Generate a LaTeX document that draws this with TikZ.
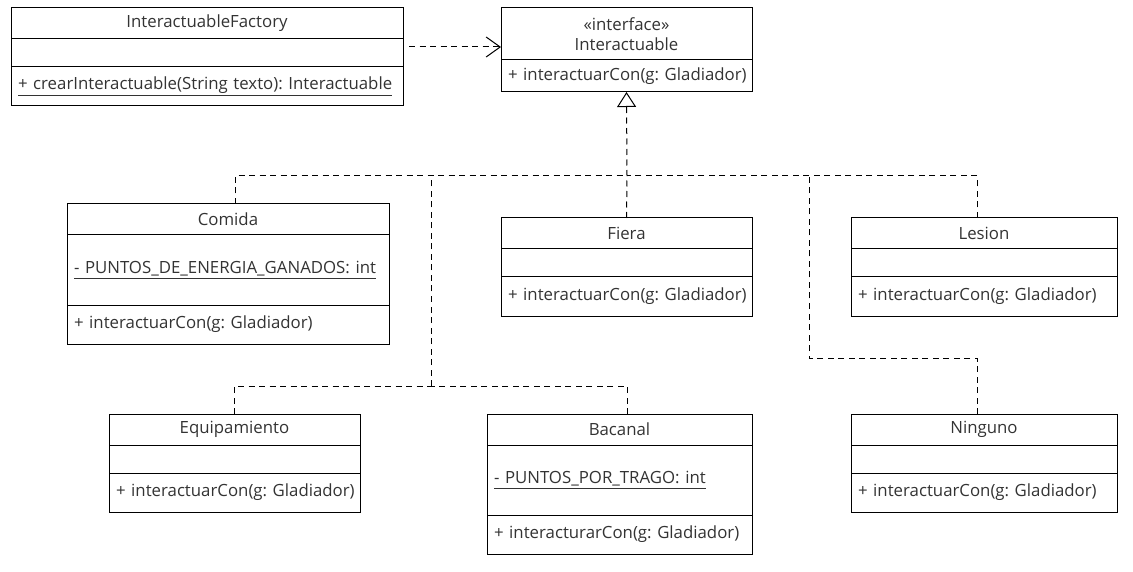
\documentclass[tikz,border=0pt]{standalone}
\usepackage{fontspec}
\setmainfont{Open Sans}
\frenchspacing
\usepackage{tikz}
\usetikzlibrary{arrows.meta,positioning}
\definecolor{umlText}{RGB}{51,51,51}
\tikzset{
  cbox/.style={draw,line width=1pt,inner xsep=7pt,inner ysep=0pt,outer sep=0pt,
               font=\fontsize{16.8}{20}\selectfont,text=umlText},
  ctitle/.style={cbox,text width=#1,align=center,minimum height=31pt,anchor=north west},
  cattr/.style={cbox,text width=#1,align=left,minimum height=28pt},
  cops/.style={cbox,text width=#1,align=left,minimum height=39pt},
  dep/.style={line width=1pt,dash pattern=on 6pt off 4.5pt,-{Straight Barb[length=14pt,width=20pt]}},
  real/.style={line width=1pt,dash pattern=on 6pt off 4.5pt,-{Triangle[open,length=15pt,width=19pt]}},
  branch/.style={line width=1pt,dash pattern=on 6pt off 4.5pt},
}

\begin{document}
\begin{tikzpicture}[x=1pt,y=-1pt]
  \useasboundingbox (0,0) rectangle (1133,572);

  % factory and interface
  \node[ctitle=378pt] (ftitle) at (11,8) {InteractuableFactory};
  \node[cattr=378pt,below right=0pt of ftitle.south west] (fattr) {};
  \node[cops=378pt,below right=0pt of fattr.south west] (fops) {\underline{+ crearInteractuable(String texto): Interactuable}};

  \node[ctitle=237pt,minimum height=52pt] (ititle) at (501,8) {«interface»\\Interactuable};
  \node[cops=237pt,minimum height=32pt,below right=0pt of ititle.south west] (iops) {\mbox{+ interactuarCon(g: Gladiador)}};

  % first row
  \node[ctitle=308pt] (ctitle) at (67,204) {Comida};
  \node[cattr=308pt,minimum height=70pt,below right=0pt of ctitle.south west] (cattr) {\underline{- PUNTOS\_DE\_ENERGIA\_GANADOS: int}};
  \node[cops=308pt,below right=0pt of cattr.south west] (cops) {\mbox{+ interactuarCon(g: Gladiador)}};

  \node[ctitle=237pt] (fititle) at (501,218) {Fiera};
  \node[cattr=237pt,below right=0pt of fititle.south west] (fiattr) {};
  \node[cops=237pt,below right=0pt of fiattr.south west] (fiops) {\mbox{+ interactuarCon(g: Gladiador)}};

  \node[ctitle=252pt] (ltitle) at (851,218) {Lesion};
  \node[cattr=252pt,below right=0pt of ltitle.south west] (lattr) {};
  \node[cops=252pt,below right=0pt of lattr.south west] (lops) {\mbox{+ interactuarCon(g: Gladiador)}};

  % second row
  \node[ctitle=237pt] (etitle) at (109,414) {Equipamiento};
  \node[cattr=237pt,below right=0pt of etitle.south west] (eattr) {};
  \node[cops=237pt,below right=0pt of eattr.south west] (eops) {\mbox{+ interactuarCon(g: Gladiador)}};

  \node[ctitle=251pt] (btitle) at (487,414) {Bacanal};
  \node[cattr=251pt,minimum height=70pt,below right=0pt of btitle.south west] (battr) {\underline{- PUNTOS\_POR\_TRAGO: int}};
  \node[cops=251pt,below right=0pt of battr.south west] (bops) {\mbox{+ interacturarCon(g: Gladiador)}};

  \node[ctitle=252pt] (ntitle) at (851,414) {Ninguno};
  \node[cattr=252pt,below right=0pt of ntitle.south west] (nattr) {};
  \node[cops=252pt,below right=0pt of nattr.south west] (nops) {\mbox{+ interactuarCon(g: Gladiador)}};

  % dependency
  \coordinate (dstart) at ([xshift=6pt,yshift=-8pt]fattr.north east);
  \draw[dep] (dstart) -- (dstart -| ititle.west);

  % realizations
  \coordinate (hub)  at (627,176);
  \coordinate (lhub) at (431,386);
  \coordinate (rhub) at (809,358);
  \draw[real] (hub) -- (iops.south);
  \draw[branch] ([xshift=7pt]ctitle.north) |- (hub);
  \draw[branch] ([xshift=-7pt]ltitle.north) |- (hub);
  \draw[branch] (fititle.north) -- (hub);
  \draw[branch] (etitle.north) |- (lhub);
  \draw[branch] ([xshift=7.5pt]btitle.north) |- (lhub);
  \draw[branch] (lhub) -- (lhub |- hub);
  \draw[branch] ([xshift=-7pt]ntitle.north) |- (rhub) -- (rhub |- hub);
\end{tikzpicture}
\end{document}
